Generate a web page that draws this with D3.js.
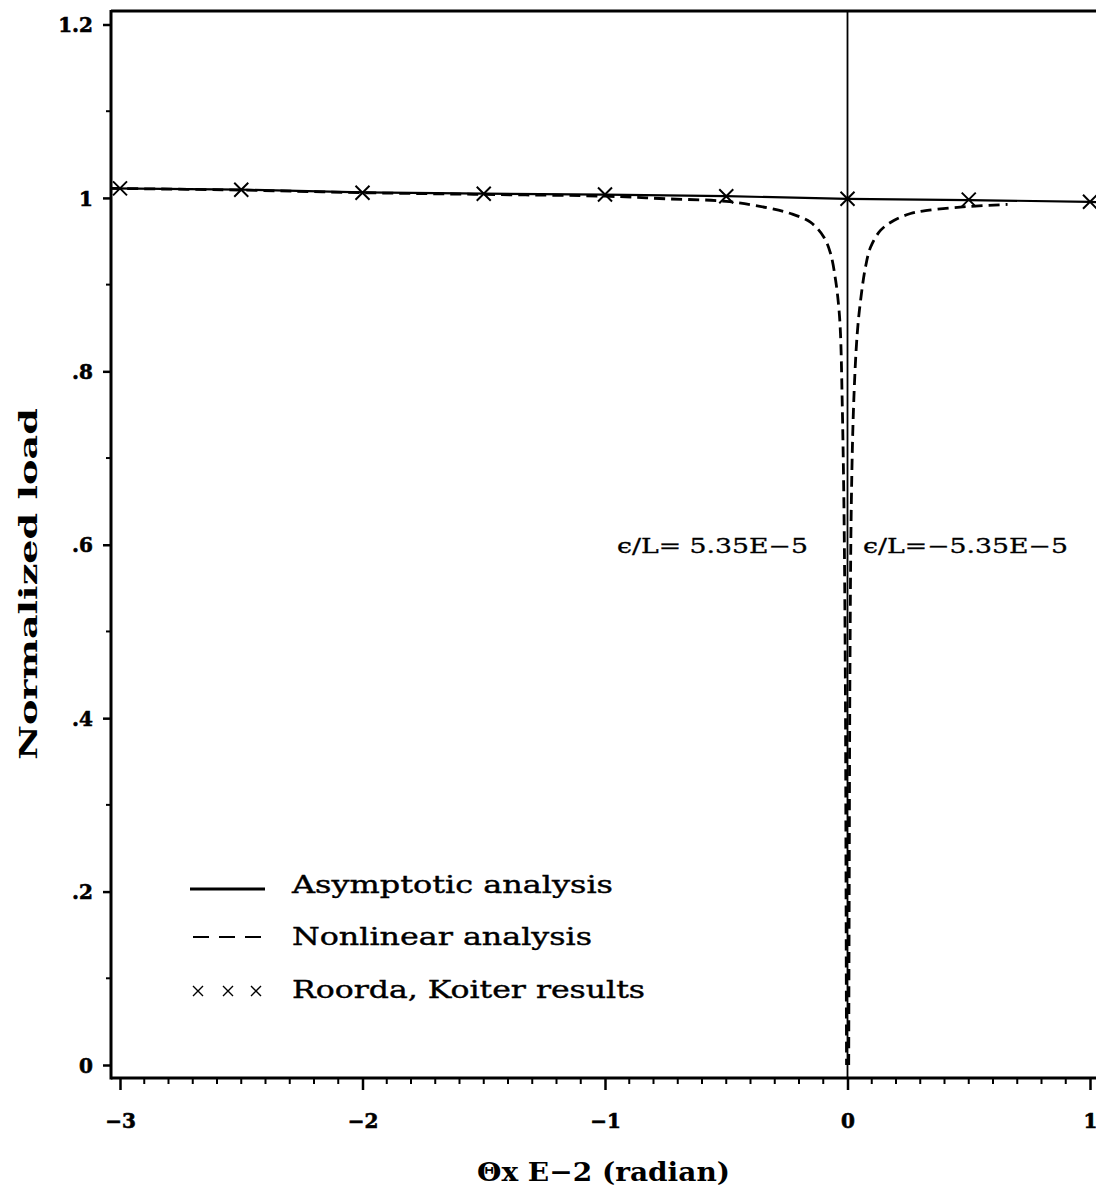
<!DOCTYPE html>
<html>
<head>
<meta charset="utf-8">
<script src="https://cdn.jsdelivr.net/npm/d3@7"></script>
<style>
  html, body { margin: 0; padding: 0; background: #fff; }
  svg { display: block; }
  text { font-family: "DejaVu Serif", "Liberation Serif", serif; fill: #000; }
</style>
</head>
<body>
<svg id="chart" width="1096" height="1201"></svg>
<script>
// ---------------- data ----------------
const xTickValues = [-3, -2, -1, 0, 1];
const xTickLabels = ["\u22123", "\u22122", "\u22121", "0", "1"];
const yTickValues = [0, 0.2, 0.4, 0.6, 0.8, 1, 1.2];
const yTickLabels = ["0", ".2", ".4", ".6", ".8", "1", "1.2"];

// Asymptotic analysis (solid)
const asymX = [-3.04, -2.5, -2, -1.5, -1, -0.5, 0, 0.5, 1, 1.03];
const asymY = [1.011, 1.0095, 1.0065, 1.005, 1.0038, 1.002, 0.999, 0.9975, 0.9955, 0.995];

// Nonlinear analysis, eps/L = 5.35E-5 (dashed, left branch)
const nlLeftX = [-3.04, -2.5, -2, -1.5, -1, -0.75, -0.5, -0.32, -0.235, -0.153, -0.098, -0.07, -0.049, -0.036, -0.029, -0.022, -0.015, -0.009, -0.006, -0.004];
const nlLeftY = [1.011, 1.009, 1.006, 1.004, 1.002, 0.999, 0.996, 0.988, 0.982, 0.972, 0.955, 0.936, 0.905, 0.874, 0.844, 0.767, 0.651, 0.45, 0.2, 0];

// Nonlinear analysis, eps/L = -5.35E-5 (dashed, right branch)
const nlRightX = [0.005, 0.007, 0.01, 0.016, 0.026, 0.04, 0.054, 0.074, 0.095, 0.136, 0.191, 0.26, 0.329, 0.494, 0.66];
const nlRightY = [0, 0.2, 0.45, 0.651, 0.767, 0.843, 0.882, 0.92, 0.943, 0.9625, 0.974, 0.982, 0.9856, 0.99, 0.9925];

// Roorda, Koiter results (crosses)
const rkX = [-3, -2.5, -2, -1.5, -1, -0.5, 0, 0.5, 1];
const rkY = [1.011, 1.0094, 1.006, 1.0049, 1.004, 1.002, 0.999, 0.998, 0.9955];

const legendLabels = ["Asymptotic analysis", "Nonlinear analysis", "Roorda, Koiter results"];
const annotLeft = "\u03f5/L= 5.35E\u22125";
const annotRight = "\u03f5/L=\u22125.35E\u22125";
const xTitle = "\u0398x E\u22122 (radian)";
const yTitle = "Normalized load";

// ---------------- drawing ----------------
const svg = d3.select("#chart");
const x = d3.scaleLinear().domain([-3, 1]).range([120, 1090]);
const y = d3.scaleLinear().domain([0, 1.2]).range([1065, 24.5]);

const plotLeft = 111, plotRight = 1096, plotTop = 11, plotBottom = 1078;

svg.append("defs").append("clipPath").attr("id", "clip")
  .append("rect").attr("x", plotLeft).attr("y", plotTop)
  .attr("width", plotRight - plotLeft).attr("height", plotBottom - plotTop);

// Y axis (major)
const yAxis = d3.axisLeft(y).tickValues(yTickValues).tickSize(8).tickPadding(10)
  .tickFormat((d, i) => yTickLabels[i]);
const gy = svg.append("g").attr("transform", `translate(${plotLeft},0)`).call(yAxis)
  .attr("font-size", 20).attr("font-weight", "bold").attr("font-family", "'DejaVu Serif', serif");
gy.select(".domain").remove();
gy.selectAll(".tick line").attr("stroke", "#000").attr("stroke-width", 2.5);
gy.selectAll(".tick text").attr("font-size", 20).attr("font-weight", "bold")
  .attr("stroke", "#000").attr("stroke-width", 0.6).attr("dy", "0.36em");

// Y minor ticks
const yMinor = d3.range(1, 12, 2).map(v => v / 10);
svg.append("g").selectAll("line").data(yMinor).join("line")
  .attr("x1", plotLeft - 5).attr("x2", plotLeft)
  .attr("y1", d => y(d)).attr("y2", d => y(d))
  .attr("stroke", "#000").attr("stroke-width", 2);

// X axis
const xAxis = d3.axisBottom(x).tickValues(xTickValues).tickSize(12).tickPadding(24)
  .tickFormat((d, i) => xTickLabels[i]);
const gx = svg.append("g").attr("transform", `translate(0,${plotBottom})`).call(xAxis)
  .attr("font-size", 20).attr("font-weight", "bold").attr("font-family", "'DejaVu Serif', serif");
gx.select(".domain").remove();
gx.selectAll(".tick line").attr("stroke", "#000").attr("stroke-width", 2.5);
gx.selectAll(".tick text").attr("font-size", 20).attr("font-weight", "bold")
  .attr("stroke", "#000").attr("stroke-width", 0.6);

// X minor ticks
const xMinor = d3.range(-30, 11).filter(v => v % 10 !== 0).map(v => v / 10);
svg.append("g").selectAll("line").data(xMinor).join("line")
  .attr("x1", d => x(d)).attr("x2", d => x(d))
  .attr("y1", plotBottom).attr("y2", plotBottom + 6)
  .attr("stroke", "#000").attr("stroke-width", 2);

// frame lines
svg.append("line").attr("x1", plotLeft).attr("x2", plotLeft).attr("y1", plotTop - 1).attr("y2", plotBottom + 1.5)
  .attr("stroke", "#000").attr("stroke-width", 3);
svg.append("line").attr("x1", plotLeft).attr("x2", plotRight).attr("y1", plotBottom).attr("y2", plotBottom)
  .attr("stroke", "#000").attr("stroke-width", 3);
svg.append("line").attr("x1", plotLeft).attr("x2", plotRight).attr("y1", plotTop).attr("y2", plotTop)
  .attr("stroke", "#000").attr("stroke-width", 3);
// vertical line at x = 0
svg.append("line").attr("x1", x(0)).attr("x2", x(0)).attr("y1", plotTop).attr("y2", plotBottom)
  .attr("stroke", "#000").attr("stroke-width", 1.8);

const dataG = svg.append("g").attr("clip-path", "url(#clip)");
const line = d3.line().x(d => x(d[0])).y(d => y(d[1]));
const curve = d3.line().x(d => x(d[0])).y(d => y(d[1])).curve(d3.curveCatmullRom);

// asymptotic
dataG.append("path").datum(d3.zip(asymX, asymY)).attr("d", line)
  .attr("fill", "none").attr("stroke", "#000").attr("stroke-width", 2.2);

// nonlinear
dataG.append("path").datum(d3.zip(nlLeftX, nlLeftY)).attr("d", curve)
  .attr("fill", "none").attr("stroke", "#000").attr("stroke-width", 2.8).attr("stroke-dasharray", "11,6");
dataG.append("path").datum(d3.zip(nlRightX, nlRightY)).attr("d", curve)
  .attr("fill", "none").attr("stroke", "#000").attr("stroke-width", 2.8).attr("stroke-dasharray", "11,6");

// crosses
const cr = 7;
dataG.selectAll("path.cross").data(d3.zip(rkX, rkY)).join("path").attr("class", "cross")
  .attr("d", d => {
    const cx = x(d[0]), cy = y(d[1]);
    return `M${cx - cr},${cy - cr}L${cx + cr},${cy + cr}M${cx - cr},${cy + cr}L${cx + cr},${cy - cr}`;
  })
  .attr("stroke", "#000").attr("stroke-width", 2).attr("fill", "none");

// legend
const lg = svg.append("g");
lg.append("line").attr("x1", 190).attr("x2", 265).attr("y1", 889).attr("y2", 889)
  .attr("stroke", "#000").attr("stroke-width", 2.8);
lg.append("line").attr("x1", 193).attr("x2", 262).attr("y1", 937).attr("y2", 937)
  .attr("stroke", "#000").attr("stroke-width", 2).attr("stroke-dasharray", "16,10");
const lcr = 5;
[198, 228, 256].forEach(cx => {
  const cy = 991;
  lg.append("path").attr("d", `M${cx - lcr},${cy - lcr}L${cx + lcr},${cy + lcr}M${cx - lcr},${cy + lcr}L${cx + lcr},${cy - lcr}`)
    .attr("stroke", "#000").attr("stroke-width", 1.4).attr("fill", "none");
});
const legendBase = [893, 945, 998];
const legendWidth = [321, 300, 353];
legendLabels.forEach((t, i) => {
  lg.append("text").attr("x", 292).attr("y", legendBase[i]).text(t)
    .attr("font-size", 24).attr("stroke", "#000").attr("stroke-width", 0.4)
    .attr("textLength", legendWidth[i]).attr("lengthAdjust", "spacingAndGlyphs");
});

// annotations
svg.append("text").attr("x", 617).attr("y", 553).text(annotLeft)
  .attr("font-size", 20).attr("stroke", "#000").attr("stroke-width", 0.3)
  .attr("textLength", 191).attr("lengthAdjust", "spacingAndGlyphs");
svg.append("text").attr("x", 863).attr("y", 553).text(annotRight)
  .attr("font-size", 20).attr("stroke", "#000").attr("stroke-width", 0.3)
  .attr("textLength", 205).attr("lengthAdjust", "spacingAndGlyphs");

// axis titles
svg.append("text").attr("x", 477).attr("y", 1181).text(xTitle)
  .attr("font-size", 26).attr("font-weight", "bold")
  .attr("textLength", 253).attr("lengthAdjust", "spacingAndGlyphs");
svg.append("text").attr("transform", "translate(37,760) rotate(-90)").attr("x", 0).attr("y", 0).text(yTitle)
  .attr("font-size", 24).attr("font-weight", "bold")
  .attr("textLength", 352).attr("lengthAdjust", "spacingAndGlyphs");
</script>
</body>
</html>
